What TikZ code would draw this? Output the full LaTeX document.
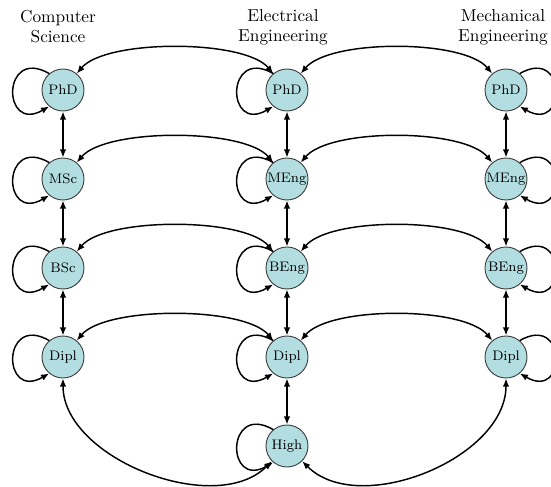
\documentclass[tikz,border=0pt]{standalone}
\usetikzlibrary{arrows.meta}
\definecolor{nodefill}{RGB}{178,222,226}
\definecolor{nodeline}{RGB}{60,60,60}
\begin{document}
\begin{tikzpicture}[x=0.55pt,y=0.55pt,
  state/.style={circle,draw=nodeline,line width=0.5pt,fill=nodefill,minimum size=23.1pt,inner sep=0pt,font=\fontsize{7.6}{9}\selectfont},
  head/.style={align=center,font=\fontsize{9.5}{11}\selectfont},
  tip/.tip={Latex[length=4.5pt,width=3.6pt]},
  conn/.style={line width=0.8pt,tip-tip},
  selfloop/.style={line width=0.8pt,-tip}]
\useasboundingbox (0,0) rectangle (551,-487);

% headings
\node[head] (hcs) at (58,-27) {Computer\\Science};
\node[head] (hee) at (283,-27) {Electrical\\Engineering};
\node[head] (hme) at (503,-27) {Mechanical\\Engineering};

% nodes
\node[state] (cs1) at (63,-90) {PhD};
\node[state] (cs2) at (63,-179) {MSc};
\node[state] (cs3) at (63,-268) {BSc};
\node[state] (cs4) at (63,-357) {Dipl};

\node[state] (ee1) at (287,-90) {PhD};
\node[state] (ee2) at (287,-179) {MEng};
\node[state] (ee3) at (287,-268) {BEng};
\node[state] (ee4) at (287,-357) {Dipl};
\node[state] (ee5) at (287,-446) {High};

\node[state] (me1) at (506,-90) {PhD};
\node[state] (me2) at (506,-179) {MEng};
\node[state] (me3) at (506,-268) {BEng};
\node[state] (me4) at (506,-357) {Dipl};

% vertical connectors
\draw[conn] (cs1) -- (cs2);
\draw[conn] (cs2) -- (cs3);
\draw[conn] (cs3) -- (cs4);
\draw[conn] (ee1) -- (ee2);
\draw[conn] (ee2) -- (ee3);
\draw[conn] (ee3) -- (ee4);
\draw[conn] (ee4) -- (ee5);
\draw[conn] (me1) -- (me2);
\draw[conn] (me2) -- (me3);
\draw[conn] (me3) -- (me4);

% horizontal arcs
\foreach \i in {1,2,3,4}{
  \draw[conn] (cs\i.50) .. controls +(50:45) and +(130:45) .. (ee\i.130);
  \draw[conn] (ee\i.50) .. controls +(50:45) and +(130:45) .. (me\i.130);
}

% bottom arcs
\draw[conn] (cs4.south) .. controls +(0,-80) and +(225:80) .. (ee5.225);
\draw[conn] (me4.south) .. controls +(0,-80) and +(-45:80) .. (ee5.-45);

% self loops
\foreach \n in {cs1,cs2,cs3,cs4,ee1,ee2,ee3,ee4,ee5}{
  \draw[selfloop] (\n.130) .. controls +(150:55) and +(210:55) .. (\n.230);
}
\foreach \n in {me1,me2,me3,me4}{
  \draw[selfloop] (\n.50) .. controls +(30:55) and +(-30:55) .. (\n.-50);
}
\end{tikzpicture}
\end{document}
